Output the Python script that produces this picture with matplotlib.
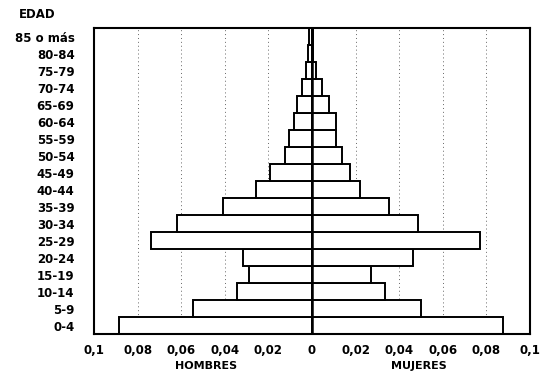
import matplotlib.pyplot as plt
import numpy as np

plt.rcParams['font.family'] = ['DejaVu Sans']

edades = ["0-4", "5-9", "10-14", "15-19", "20-24", "25-29", "30-34", "35-39",
          "40-44", "45-49", "50-54", "55-59", "60-64", "65-69", "70-74",
          "75-79", "80-84", "85 o más"]
hombres = [0.0885, 0.0544, 0.0343, 0.0288, 0.0315, 0.074, 0.062, 0.041,
           0.0257, 0.0193, 0.0124, 0.0104, 0.0081, 0.007, 0.0044,
           0.0028, 0.002, 0.0013]
mujeres = [0.0874, 0.0499, 0.0335, 0.0269, 0.0462, 0.077, 0.0488, 0.0353,
           0.022, 0.0174, 0.0136, 0.0109, 0.011, 0.0078, 0.0046,
           0.0017, 0.0006, 0.0005]
ticks = [-0.1, -0.08, -0.06, -0.04, -0.02, 0, 0.02, 0.04, 0.06, 0.08, 0.1]
tick_labels = ["0,1", "0,08", "0,06", "0,04", "0,02", "0",
               "0,02", "0,04", "0,06", "0,08", "0,1"]

fig = plt.figure(figsize=(5.41, 3.77), dpi=100)
ax = fig.add_axes([0.1738, 0.114, 0.806, 0.8117])

y = np.arange(len(edades))
for g in ticks[1:-1]:
    if g != 0:
        ax.axvline(g, color='#666666', linestyle=(0, (1, 3)), linewidth=0.7, zorder=0)

ax.barh(y, -np.array(hombres), height=1, color='white', edgecolor='black', linewidth=1.4, zorder=2)
ax.barh(y, mujeres, height=1, color='white', edgecolor='black', linewidth=1.4, zorder=2)
ax.axvline(0, color='black', linewidth=1.8, zorder=3)

ax.set_xlim(-0.1, 0.1)
ax.set_ylim(-0.5, len(edades) - 0.5)
ax.set_yticks(y)
ax.set_yticklabels(edades, fontweight='bold', fontsize=8.5)
ax.set_xticks(ticks)
ax.set_xticklabels(tick_labels, fontweight='bold', fontsize=8.5)
ax.tick_params(length=0, pad=7)
ax.tick_params(axis='y', pad=14)
for s in ax.spines.values():
    s.set_linewidth(1.5)

fig.text(0.035, 0.962, "EDAD", fontweight='bold', fontsize=8.5, va='center')
fig.text(0.38, 0.028, "HOMBRES", fontweight='bold', fontsize=8, ha='center', va='center')
fig.text(0.775, 0.028, "MUJERES", fontweight='bold', fontsize=8, ha='center', va='center')

fig.savefig("out.png", dpi=100)
